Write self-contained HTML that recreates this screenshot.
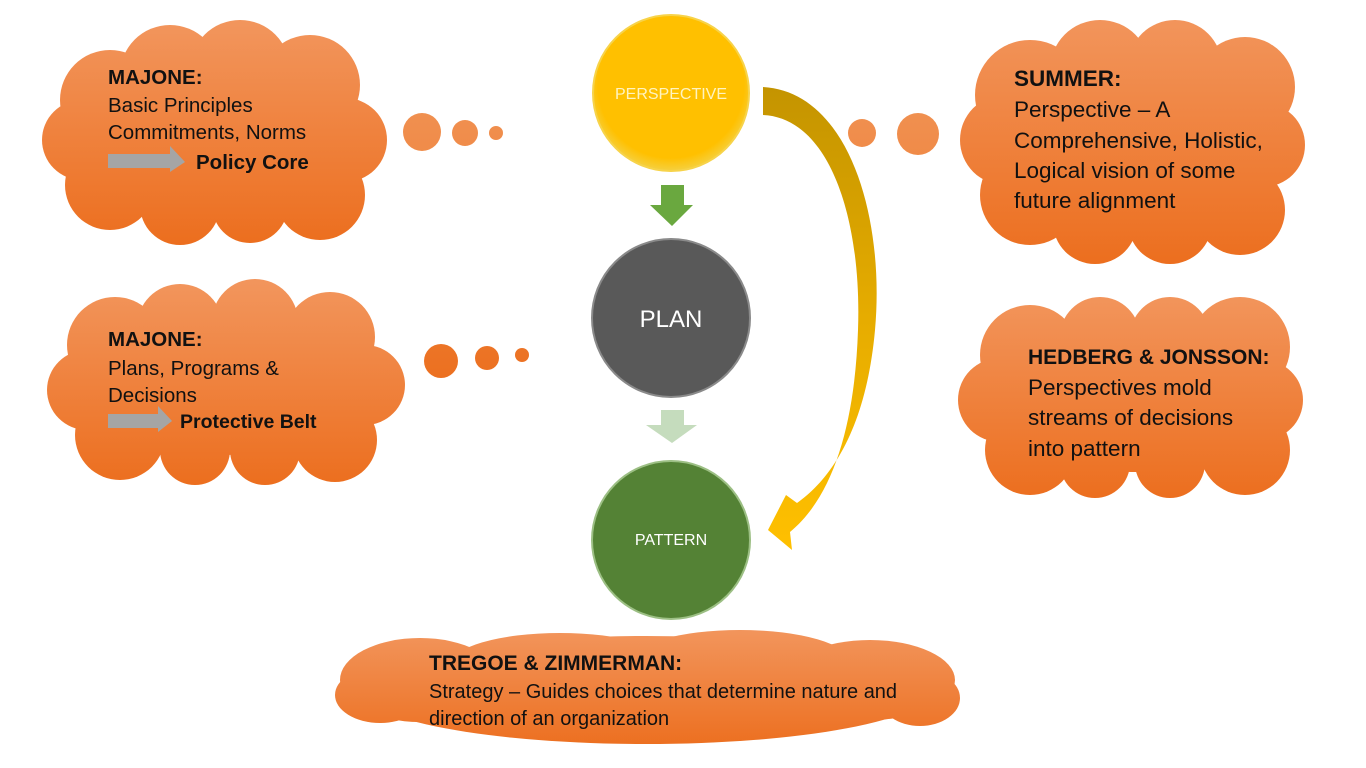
<!DOCTYPE html>
<html><head><meta charset="utf-8"><style>
html,body{margin:0;padding:0;background:#fff;}
svg{display:block;font-family:"Liberation Sans",Calibri,sans-serif;}
</style></head><body>
<svg width="1366" height="768" viewBox="0 0 1366 768" xmlns="http://www.w3.org/2000/svg">
<defs>
<linearGradient id="o1" gradientUnits="userSpaceOnUse" x1="0" y1="25" x2="0" y2="245"><stop offset="0" stop-color="#f2955c"/><stop offset="1" stop-color="#ec6e1e"/></linearGradient>
<linearGradient id="o2" gradientUnits="userSpaceOnUse" x1="0" y1="283" x2="0" y2="487"><stop offset="0" stop-color="#f2955c"/><stop offset="1" stop-color="#ec6e1e"/></linearGradient>
<linearGradient id="o3" gradientUnits="userSpaceOnUse" x1="0" y1="18" x2="0" y2="266"><stop offset="0" stop-color="#f2955c"/><stop offset="1" stop-color="#ec6e1e"/></linearGradient>
<linearGradient id="o4" gradientUnits="userSpaceOnUse" x1="0" y1="295" x2="0" y2="500"><stop offset="0" stop-color="#f2955c"/><stop offset="1" stop-color="#ec6e1e"/></linearGradient>
<linearGradient id="o5" gradientUnits="userSpaceOnUse" x1="0" y1="630" x2="0" y2="750"><stop offset="0" stop-color="#f2955c"/><stop offset="1" stop-color="#ec6e1e"/></linearGradient>
<linearGradient id="od" gradientUnits="userSpaceOnUse" x1="0" y1="112" x2="0" y2="380"><stop offset="0" stop-color="#f09050"/><stop offset="1" stop-color="#ec7020"/></linearGradient>
<linearGradient id="au" x1="0" y1="0" x2="0" y2="1"><stop offset="0" stop-color="#c49400"/><stop offset="0.5" stop-color="#e6ac00"/><stop offset="1" stop-color="#ffc000"/></linearGradient>
<radialGradient id="yel" cx="0.5" cy="0.45" r="0.55"><stop offset="0.85" stop-color="#ffc000"/><stop offset="1" stop-color="#f5d040"/></radialGradient>
</defs>
<g fill="url(#o1)"><ellipse cx="215" cy="135" rx="140" ry="75"/><circle cx="110" cy="100" r="50"/><circle cx="170" cy="75" r="50"/><circle cx="240" cy="70" r="50"/><circle cx="310" cy="85" r="50"/><circle cx="345" cy="140" r="42"/><circle cx="320" cy="195" r="45"/><circle cx="250" cy="205" r="38"/><circle cx="180" cy="205" r="40"/><circle cx="110" cy="185" r="45"/><circle cx="82" cy="140" r="40"/></g>
<g fill="url(#o2)"><ellipse cx="225" cy="385" rx="150" ry="70"/><circle cx="115" cy="345" r="48"/><circle cx="180" cy="327" r="43"/><circle cx="255" cy="322" r="43"/><circle cx="330" cy="337" r="45"/><circle cx="365" cy="385" r="40"/><circle cx="335" cy="440" r="42"/><circle cx="265" cy="450" r="35"/><circle cx="195" cy="450" r="35"/><circle cx="120" cy="435" r="45"/><circle cx="87" cy="390" r="40"/></g>
<g fill="url(#o3)"><ellipse cx="1131" cy="142" rx="145" ry="85"/><circle cx="1030" cy="95" r="55"/><circle cx="1100" cy="70" r="50"/><circle cx="1175" cy="67" r="47"/><circle cx="1245" cy="87" r="50"/><circle cx="1263" cy="145" r="42"/><circle cx="1240" cy="210" r="45"/><circle cx="1170" cy="222" r="42"/><circle cx="1095" cy="222" r="42"/><circle cx="1030" cy="195" r="50"/><circle cx="1005" cy="140" r="45"/></g>
<g fill="url(#o4)"><ellipse cx="1131" cy="397" rx="150" ry="75"/><circle cx="1030" cy="355" r="50"/><circle cx="1100" cy="337" r="40"/><circle cx="1170" cy="337" r="40"/><circle cx="1240" cy="347" r="50"/><circle cx="1263" cy="400" r="40"/><circle cx="1245" cy="450" r="45"/><circle cx="1170" cy="463" r="35"/><circle cx="1095" cy="463" r="35"/><circle cx="1030" cy="450" r="45"/><circle cx="1000" cy="400" r="42"/></g>
<g fill="url(#o5)"><ellipse cx="646" cy="690" rx="285" ry="54"/><ellipse cx="420" cy="680" rx="80" ry="42"/><ellipse cx="870" cy="680" rx="85" ry="40"/><ellipse cx="560" cy="665" rx="110" ry="32"/><ellipse cx="740" cy="662" rx="110" ry="32"/><ellipse cx="380" cy="695" rx="45" ry="28"/><ellipse cx="920" cy="698" rx="40" ry="28"/></g>
<g fill="url(#od)">
<circle cx="422" cy="132" r="19"/><circle cx="465" cy="133" r="13"/><circle cx="496" cy="133" r="7"/>
<circle cx="441" cy="361" r="17"/><circle cx="487" cy="358" r="12"/><circle cx="522" cy="355" r="7"/>
<circle cx="862" cy="133" r="14"/><circle cx="918" cy="134" r="21"/>
</g>
<path d="M763,87 C850,92 885,220 875,330 C866,430 830,480 797,503 L786,495 L768,530 L792,550 L790,532 C835,495 855,420 858,330 C862,220 830,118 763,115 Z" fill="url(#au)"/>
<circle cx="671" cy="93" r="78" fill="url(#yel)" stroke="#f7d34a" stroke-width="2"/>
<circle cx="671" cy="318" r="79" fill="#595959" stroke="#8a8a8a" stroke-width="2"/>
<circle cx="671" cy="540" r="79" fill="#548235" stroke="#9cbf84" stroke-width="2"/>
<text x="671" y="99" text-anchor="middle" font-size="16" fill="#fff3c0">PERSPECTIVE</text>
<text x="671" y="327" text-anchor="middle" font-size="24" fill="#fff">PLAN</text>
<text x="671" y="545" text-anchor="middle" font-size="16" fill="#fff">PATTERN</text>
<path d="M661,185 H684 V205 H693 L672,226 L650,205 H661 Z" fill="#6aa83f"/>
<path d="M661,410 H684 V425 H697 L672,443 L646,425 H661 Z" fill="#c5dcbd"/>
<path d="M108,154 H170 V146 L185,162 L170,172 V168 H108 Z" fill="#a5a5a5"/>
<path d="M108,414 H158 V406 L172,421 L158,432 V428 H108 Z" fill="#a5a5a5"/>
<g fill="#111">
<g font-size="20.5">
<text x="108" y="84" font-weight="bold">MAJONE:</text>
<text x="108" y="112">Basic Principles</text>
<text x="108" y="139">Commitments, Norms</text>
<text x="196" y="169" font-weight="bold">Policy Core</text>
<text x="108" y="346" font-weight="bold">MAJONE:</text>
<text x="108" y="375">Plans, Programs &amp;</text>
<text x="108" y="402">Decisions</text>
<text x="180" y="428" font-weight="bold" font-size="19.5">Protective Belt</text>
</g>
<g font-size="22.5">
<text x="1014" y="86" font-weight="bold">SUMMER:</text>
<text x="1014" y="117">Perspective – A</text>
<text x="1014" y="148">Comprehensive, Holistic,</text>
<text x="1014" y="178">Logical vision of some</text>
<text x="1014" y="208">future alignment</text>
<text x="1028" y="364" font-weight="bold" font-size="21">HEDBERG &amp; JONSSON:</text>
<text x="1028" y="395">Perspectives mold</text>
<text x="1028" y="425">streams of decisions</text>
<text x="1028" y="456">into pattern</text>
</g>
<text x="429" y="670" font-weight="bold" font-size="21">TREGOE &amp; ZIMMERMAN:</text>
<text x="429" y="698" font-size="20">Strategy – Guides choices that determine nature and</text>
<text x="429" y="725" font-size="20">direction of an organization</text>
</g>
</svg>
</body></html>
